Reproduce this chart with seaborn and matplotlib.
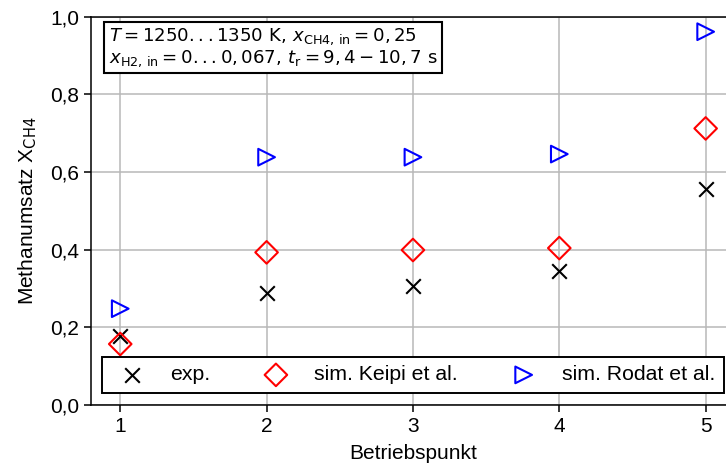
import matplotlib
matplotlib.use("Agg")
import matplotlib.pyplot as plt
from matplotlib.ticker import FixedLocator, FuncFormatter
import seaborn as sns
import pandas as pd

# Operating points and measured / simulated methane conversion
betriebspunkt = [1, 2, 3, 4, 5]
exp_vals = [0.178, 0.288, 0.307, 0.344, 0.555]
keipi_vals = [0.157, 0.393, 0.399, 0.404, 0.712]
rodat_vals = [0.248, 0.638, 0.638, 0.646, 0.961]

series_names = ["exp.", "sim. Keipi et al.", "sim. Rodat et al."]
y_ticks = [0.0, 0.2, 0.4, 0.6, 0.8, 1.0]

sns.set_style("ticks")
plt.rcParams["font.family"] = ["Liberation Sans", "DejaVu Sans"]
plt.rcParams["mathtext.fontset"] = "dejavusans"
plt.rcParams["font.size"] = 15
for key in ["text.color", "axes.labelcolor", "xtick.color", "ytick.color", "axes.edgecolor"]:
    plt.rcParams[key] = "black"

df = pd.DataFrame({
    "Betriebspunkt": betriebspunkt * 3,
    "X": exp_vals + keipi_vals + rodat_vals,
    "Serie": [series_names[0]] * 5 + [series_names[1]] * 5 + [series_names[2]] * 5,
})

fig = plt.figure(figsize=(7.26, 4.68), dpi=100)
ax = fig.add_axes([0.1253, 0.1346, 0.887, 0.830])

sns.scatterplot(data=df[df["Serie"] == series_names[0]], x="Betriebspunkt", y="X",
                marker="x", color="black", s=10.5 ** 2, linewidth=1.5,
                label=series_names[0], ax=ax, zorder=3)
sns.scatterplot(data=df[df["Serie"] == series_names[1]], x="Betriebspunkt", y="X",
                marker="D", facecolor="none", edgecolor="red", s=11.5 ** 2, linewidth=1.5,
                label=series_names[1], ax=ax, zorder=3)
sns.scatterplot(data=df[df["Serie"] == series_names[2]], x="Betriebspunkt", y="X",
                marker=">", facecolor="none", edgecolor="blue", s=12 ** 2, linewidth=1.5,
                label=series_names[2], ax=ax, zorder=3)

ax.set_xlim(0.8, 5.2)
ax.set_ylim(0.0, 1.0)
ax.xaxis.set_major_locator(FixedLocator(betriebspunkt))
ax.yaxis.set_major_locator(FixedLocator(y_ticks))
ax.yaxis.set_major_formatter(FuncFormatter(lambda v, p: f"{v:.1f}".replace(".", ",")))
ax.grid(True, color="#b8b8b8", linewidth=1.1)
ax.set_axisbelow(True)
for sp in ax.spines.values():
    sp.set_color("black")
    sp.set_linewidth(1.1)
ax.tick_params(axis="both", direction="out", length=5, width=1.1, labelsize=15,
               color="black", labelcolor="black")

ax.set_xlabel("Betriebspunkt", fontsize=15, labelpad=6)
ax.set_ylabel(r"Methanumsatz X$_\mathrm{CH4}$", fontsize=15, labelpad=8)

leg = ax.legend(loc="lower left", bbox_to_anchor=(0.017, 0.031),
                ncol=3, borderaxespad=0, fancybox=False,
                framealpha=1, edgecolor="black", fontsize=15.3, columnspacing=2.1)
leg.get_frame().set_linewidth(1.4)

info = (r"$T = 1250...1350\ \mathrm{K},\, x_\mathrm{CH4,\,in} = 0,25$" "\n"
        r"$x_\mathrm{H2,\,in} = 0...0,067,\, t_\mathrm{r} = 9,4-10,7\ \mathrm{s}$")
ax.text(0.028, 0.975, info, transform=ax.transAxes, va="top", ha="left",
        fontsize=13.1, linespacing=1.1,
        bbox=dict(boxstyle="square,pad=0.25", facecolor="white",
                  edgecolor="black", linewidth=1.5))

fig.savefig("out.png", dpi=100)
